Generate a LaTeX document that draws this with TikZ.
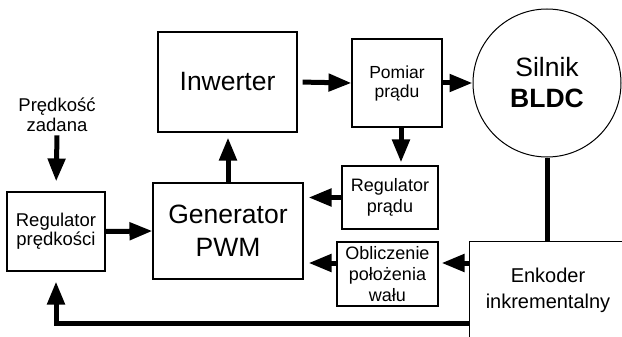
\documentclass[tikz,border=0pt]{standalone}
\usepackage{fontspec}
\setmainfont{Liberation Sans}
\usetikzlibrary{arrows.meta}
\begin{document}
\begin{tikzpicture}[x=1pt,y=-1pt,
  box/.style={draw, line width=1.1pt, inner sep=0pt, align=center},
  arr/.style={line width=5pt, -{Triangle[length=23pt,width=17pt]}},
  fat/.style={line width=5pt},
  big/.style={font=\fontsize{26.5}{32}\selectfont}]
\useasboundingbox (0,0) rectangle (622,337);
\clip (0,0) rectangle (622,337);
\node[box,big,minimum width=139pt,minimum height=100pt] (inw) at (227.5,82) {Inwerter};
\node[box,font=\fontsize{17.5}{19}\selectfont,minimum width=90pt,minimum height=88pt] (pom) at (397,83) {Pomiar\\prądu};
\node[draw,circle,line width=1pt,minimum size=148pt,inner sep=0pt,align=center,font=\fontsize{26.5}{31}\selectfont] (mot) at (547,83) {Silnik\\\textbf{BLDC}};
\node[box,font=\fontsize{18}{21}\selectfont,minimum width=96pt,minimum height=63pt] (regp) at (390,197.5) {Regulator\\prądu};
\node[box,big,font=\fontsize{26.5}{33}\selectfont,minimum width=150pt,minimum height=96pt] (gen) at (228,231) {Generator\\PWM};
\node[box,font=\fontsize{18}{21}\selectfont,minimum width=101pt,minimum height=64pt] (obl) at (387.5,274) {Obliczenie\\położenia\\wału};
\node[box,font=\fontsize{18.5}{19}\selectfont,minimum width=98pt,minimum height=79pt] (regv) at (56,231.5) {Regulator\\prędkości};
\node[align=center,font=\fontsize{18.5}{20}\selectfont] (zad) at (57,115) {Prędkość\\zadana};
\node[draw,line width=1.1pt,minimum width=200pt,minimum height=150pt,anchor=north west,inner sep=0pt] (enk) at (469,241) {};
\node[align=center,font=\fontsize{20}{26}\selectfont] (enkt) at (548,290) {Enkoder\\inkrementalny};
\draw[arr, shorten <=5pt] (inw.east) -- (pom.west);
\draw[arr] (pom.east) -- (mot.west);
\coordinate (p1) at ([xshift=4pt]pom.south);
\draw[arr, shorten >=3pt] (p1) -- (p1 |- regp.north);
\draw[arr, shorten >=5pt] (regp.west) -- (regp.west -| gen.east);
\coordinate (o1) at ([yshift=11pt]obl.west);
\draw[arr, shorten >=5pt] (o1) -- (o1 -| gen.east);
\coordinate (e1) at ([yshift=-22pt]enk.north west);
\draw[arr, shorten >=3pt] (e1) -- (e1 -| obl.east);
\draw[fat] (mot.south) -- (mot.south |- enk.north);
\coordinate (e2) at ([yshift=-82pt]enk.north west);
\draw[arr, shorten >=10pt] (e2) -| (regv.south);
\draw[arr, shorten >=5pt] (gen.north) -- (gen.north |- inw.south);
\draw[arr] (regv.east) -- (gen.west);
\draw[arr, shorten >=10pt] (zad.south) -- (regv.north);
\end{tikzpicture}
\end{document}
